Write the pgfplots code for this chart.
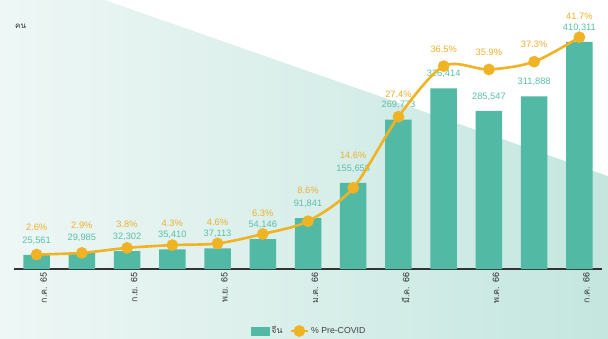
\documentclass[border=0pt]{standalone}
\usepackage{pgfplots}
\pgfplotsset{compat=1.18}
\usepackage{fontspec}
\setmainfont{Liberation Sans}
\newfontfamily\thaifont[Script=Thai]{Loma}
\definecolor{barc}{HTML}{52B9A5}
\definecolor{linec}{HTML}{F0B323}
\definecolor{numc}{HTML}{5BBFA9}
\definecolor{pctc}{HTML}{EDB02E}
\definecolor{bgl}{HTML}{EEF7F5}
\definecolor{bgr}{HTML}{C4E6DF}
\begin{document}
\begin{tikzpicture}[x=1pt,y=1pt]
\useasboundingbox (0,0) rectangle (608,338);
\shade[left color=bgl, right color=bgr] (0,0) rectangle (608,338);
\fill[white] (105,338) -- (608,338) -- (608,162) -- cycle;
\begin{axis}[
  at={(14pt,69pt)}, anchor=south west, scale only axis,
  width=588pt, height=249pt,
  xmin=-0.5, xmax=12.5, ymin=0, ymax=450000,
  axis x line*=bottom, axis y line=none,
  x axis line style={draw=black!80, line width=1.2pt},
  xtick={0,2,4,6,8,10,12},
  xticklabels={ก.ค. 65, ก.ย. 65, พ.ย. 65, ม.ค. 66, มี.ค. 66, พ.ค. 66, ก.ค. 66},
  xticklabel style={font=\thaifont\fontsize{9}{10}\selectfont, rotate=90, anchor=east, text=black!75, yshift=-7pt},
  major tick length=0pt,
  ytick=\empty,
  clip=false,
]
\addplot[ybar, bar width=26.5pt, fill=barc, draw=none,
  nodes near coords={\pgfmathprintnumber[fixed, precision=0, 1000 sep={,}, assume math mode=true]{\pgfplotspointmeta}},
  every node near coord/.append style={font=\fontsize{9.3}{10}\selectfont, text=numc, anchor=center, yshift=14.5pt}]
coordinates {(0,25561) (1,29985) (2,32302) (3,35410) (4,37113) (5,54146) (6,91841) (7,155658) (8,269773) (9,326414) (10,285547) (11,311888) (12,410311)};
\end{axis}
\begin{axis}[
  at={(14pt,69pt)}, anchor=south west, scale only axis,
  width=588pt, height=249pt,
  xmin=-0.5, xmax=12.5, ymin=0, ymax=44.8,
  hide axis, clip=false,
  legend columns=2,
  legend style={draw=none, fill=none, at={(0.502,-0.249)}, anchor=center, font=\fontsize{8.7}{9}\selectfont, text=black!75, /tikz/every even column/.append style={column sep=5pt}},
]
\addlegendimage{legend image code/.code={\fill[barc] (0pt,-4pt) rectangle (18pt,4pt);}}
\addlegendentry{\thaifont จีน}
\addplot[linec, line width=2.6pt, smooth, mark=*, mark size=4.5pt, mark options={fill=linec, draw=linec}]
coordinates {(0,2.6) (1,2.9) (2,3.8) (3,4.3) (4,4.6) (5,6.3) (6,8.6) (7,14.6) (8,27.4) (9,36.5) (10,35.9) (11,37.3) (12,41.7)};
\addlegendentry{\% Pre-COVID}
\addplot[draw=none, mark=none, forget plot, point meta=explicit symbolic,
  nodes near coords={\pgfplotspointmeta\%},
  every node near coord/.append style={font=\fontsize{9.3}{10}\selectfont, text=pctc, anchor=center}]
table[meta=l] {
x y l
0 7.56 2.6
1 7.92 2.9
2 8.10 3.8
3 8.28 4.3
4 8.46 4.6
5 10.08 6.3
6 14.21 8.6
7 20.51 14.6
8 31.40 27.4
9 39.58 36.5
10 39.04 35.9
11 40.48 37.3
12 45.52 41.7
};
\end{axis}
\node[anchor=west, inner sep=0pt, font=\thaifont\fontsize{8}{9}\selectfont, text=black!80] at (15,312) {คน};
\end{tikzpicture}
\end{document}
